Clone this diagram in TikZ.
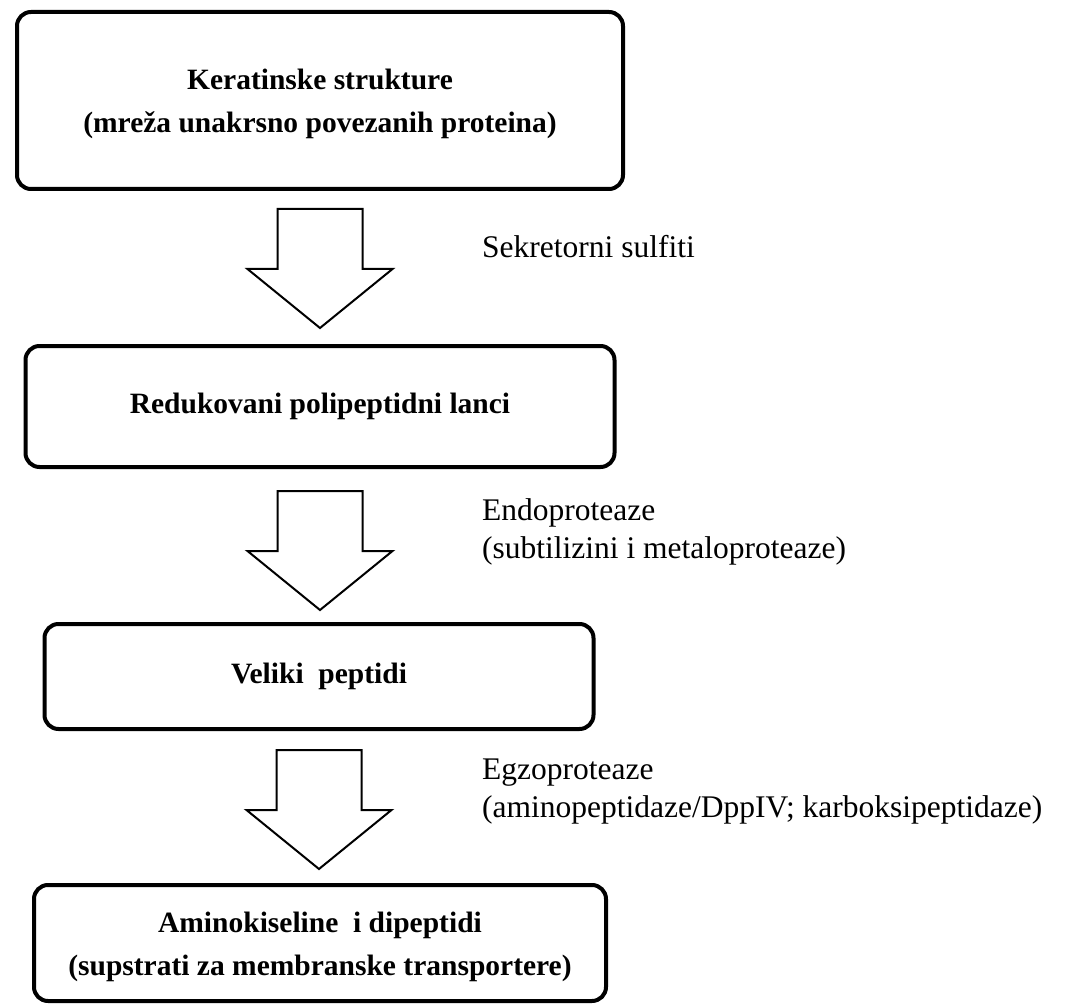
\documentclass[tikz,border=0pt]{standalone}
\usepackage{fontspec}
\setmainfont{Liberation Serif}

\tikzset{
  stage/.style={draw, line width=4pt, rounded corners=14pt, align=center, inner sep=0pt,
    font=\bfseries\fontsize{29.5}{43}\selectfont},
  enzyme/.style={align=left, inner sep=0pt, font=\fontsize{31.5}{38}\selectfont},
  pics/bigarrow/.style={code={
    \draw[line width=2pt, line join=miter, fill=white]
      (-42.5,0) -- (42.5,0) -- (42.5,60) -- (72.5,60) -- (0,119) -- (-72.5,60) -- (-42.5,60) -- cycle;
  }}
}

\begin{document}
\begin{tikzpicture}[x=1pt, y=-1pt]
\useasboundingbox (0,0) rectangle (1071,1008);
% Stages
    \node[stage, minimum width=606pt, minimum height=177pt] (b1) at (320,100.5)
      {\rule{0pt}{28pt}Keratinske strukture\\(mreža unakrsno povezanih proteina)};
    \node[stage, minimum width=589pt, minimum height=121pt] (b2) at (320,406.5)
      {Redukovani polipeptidni lanci};
    \node[stage, minimum width=549pt, minimum height=105pt] (b3) at (319,676.5)
      {Veliki~~peptidi};
    \node[stage, minimum width=572pt, minimum height=116pt] (b4) at (320,943)
      {\rule{0pt}{28pt}Aminokiseline~~i dipeptidi\\(supstrati za membranske transportere)};
% Arrows
    \path (b1.south) ++(0,18) pic {bigarrow};
    \path (b2.south) ++(0,22) pic {bigarrow};
    \path (b3.south) ++(0,19) pic {bigarrow};
% Enzymes
    \node[enzyme, anchor=base west] (e1) at (482,258) {Sekretorni sulfiti};
    \node[enzyme, anchor=west] (e2) at (482,532) {Endoproteaze\\(subtilizini i metaloproteaze)};
    \node[enzyme, anchor=west] (e3) at (482,792) {Egzoproteaze\\(aminopeptidaze/DppIV; karboksipeptidaze)};
\end{tikzpicture}
\end{document}
